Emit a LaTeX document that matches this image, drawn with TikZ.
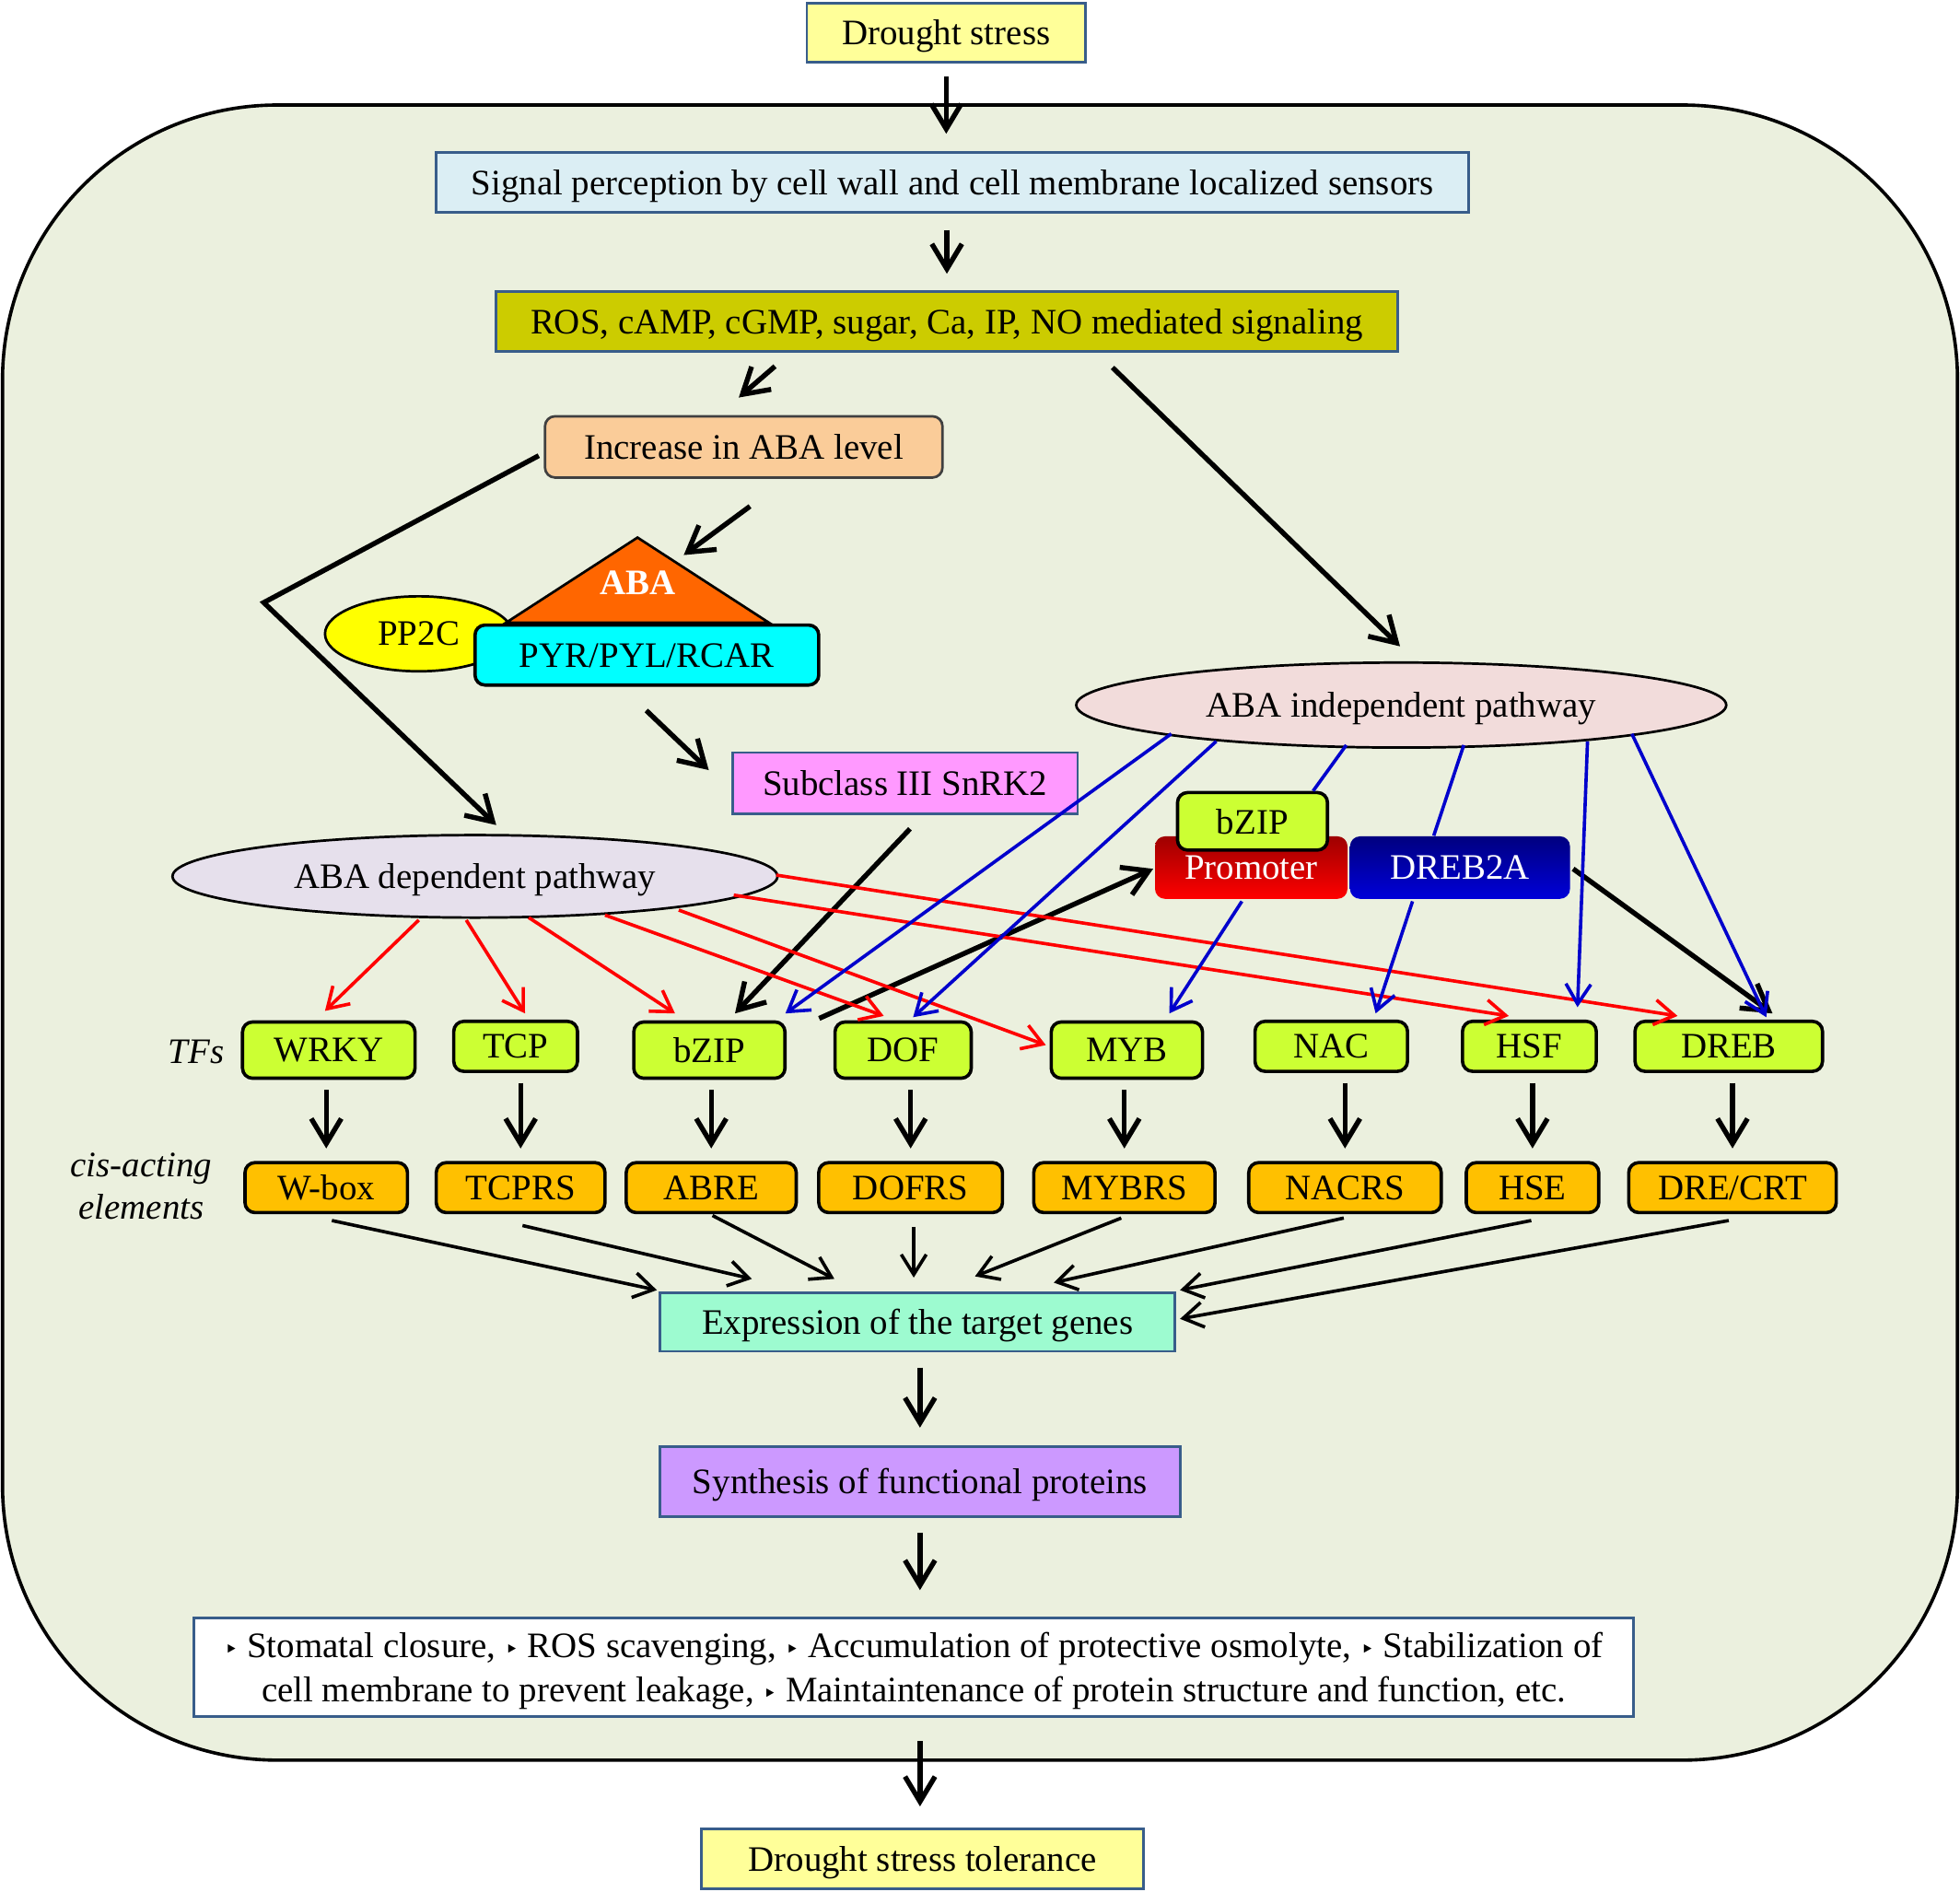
\documentclass[tikz,border=0pt]{standalone}
\usepackage{fontspec}
\setmainfont{Liberation Serif}
\newfontfamily\bulletfont{DejaVu Sans}
\usetikzlibrary{arrows.meta,shapes.geometric,calc}
\newcommand{\boxfont}{\fontsize{21.5}{26}\selectfont}
\newcommand{\trib}{{\bulletfont\fontsize{14}{14}\selectfont ‣}}
\tikzset{every picture/.style={line width=0.75pt}}
\tikzset{
  txt/.style={font=\boxfont, inner sep=0pt, align=center, text depth=0pt},
  box/.style={txt, draw={rgb, 255:red, 56; green, 93; blue, 138}, line width=1.5pt},
  tf/.style={txt, draw, line width=2pt, rounded corners=6pt, fill={rgb, 255:red, 204; green, 255; blue, 51}},
  cis/.style={txt, draw, line width=2pt, rounded corners=6pt, fill={rgb, 255:red, 255; green, 192; blue, 0}, minimum height=30pt},
  oval/.style={txt, draw, ellipse, line width=1.5pt},
  arr/.style={line width=3pt, -{Straight Barb[length=15pt,width=18pt]}},
  tip/.style={line width=2pt, -{Straight Barb[length=12pt,width=15pt]}},
  redarr/.style={tip, color={rgb, 255:red, 255; green, 0; blue, 0}},
  bluearr/.style={tip, color={rgb, 255:red, 0; green, 0; blue, 204}},
  blueline/.style={line width=2pt, color={rgb, 255:red, 0; green, 0; blue, 204}},
}
\begin{document}
\begin{tikzpicture}[x=0.75pt,y=0.75pt,yscale=-1,xscale=1]
\useasboundingbox (0,0) rectangle (1568,1513);

%Shape: Rounded Rect (cell)
\draw[line width=2pt, fill={rgb, 255:red, 235; green, 240; blue, 222}, rounded corners=165pt] (2,84) rectangle (1566,1408);

%Main flow boxes
\node[box, fill={rgb, 255:red, 255; green, 255; blue, 153}, minimum width=167.25pt, minimum height=35.25pt] (drought) at (757,26) {Drought stress};
\node[box, fill={rgb, 255:red, 219; green, 238; blue, 244}, minimum width=619.5pt, minimum height=36pt] (signal) at (762,146) {Signal perception by cell wall and cell membrane localized sensors};
\node[box, fill={rgb, 255:red, 204; green, 204; blue, 0}, minimum width=540.75pt, minimum height=36pt] (ros) at (757.5,257) {ROS, cAMP, cGMP, sugar, Ca, IP, NO mediated signaling};
\node[txt, draw={rgb, 255:red, 64; green, 64; blue, 64}, line width=1.5pt, rounded corners=6pt, fill={rgb, 255:red, 250; green, 204; blue, 153}, minimum width=238.5pt, minimum height=36.75pt] (inc) at (595,357.5) {Increase in ABA level};

%Receptor complex
\node[oval, fill={rgb, 255:red, 255; green, 255; blue, 0}, minimum width=112.5pt, minimum height=45pt] (pp2c) at (335,507) {PP2C};
\coordinate (abaleft) at (405,498);
\coordinate (abatop) at (510,430);
\coordinate (abaright) at (615,498);
\draw[line width=1.5pt, fill={rgb, 255:red, 255; green, 102; blue, 0}] (abaleft) -- (abatop) -- (abaright) -- cycle;
\node[txt, text=white, font=\boxfont\bfseries] (aba) at (510,466) {ABA};
\node[txt, draw, line width=2pt, rounded corners=6pt, fill={rgb, 255:red, 0; green, 255; blue, 255}, minimum width=206.25pt, minimum height=36pt] (pyr) at (517.5,524) {PYR/PYL/RCAR};
\node[box, fill={rgb, 255:red, 255; green, 153; blue, 255}, minimum width=207pt, minimum height=36.75pt] (snrk) at (724,626.5) {Subclass III SnRK2};

%Pathways
\node[oval, fill={rgb, 255:red, 242; green, 220; blue, 219}, minimum width=390pt, minimum height=51pt] (indep) at (1121,564) {ABA independent pathway};
\node[oval, fill={rgb, 255:red, 230; green, 224; blue, 236}, minimum width=363pt, minimum height=49.5pt] (dep) at (380,701) {ABA dependent pathway};
\node[txt, text=white, rounded corners=6pt, top color=red!62!black, bottom color=red, minimum width=115.5pt, minimum height=37.5pt] (prom) at (1001,694) {Promoter};
\node[txt, text=white, rounded corners=6pt, top color=blue!50!black, bottom color=blue!85!black, minimum width=132pt, minimum height=37.5pt] (dreb2a) at (1168,694) {DREB2A};
\node[tf, minimum width=90pt, minimum height=34.5pt] (bzipp) at (1002,657) {bZIP};

%TFs and cis-acting elements
\node[txt, font=\boxfont\itshape] (tflab) at (157,841) {TFs};
\node[txt, font=\fontsize{21.5}{25.5}\selectfont\itshape] (cislab) at (113,949) {cis-acting\\elements};
\foreach \n/\t/\x/\y/\w/\h in {wrky/WRKY/263/840/103.5pt/33.75pt, tcp/TCP/412.5/837/74.25pt/30pt, bzip/bZIP/567.5/840/90.75pt/33.75pt, dof/DOF/722.5/840/81.75pt/33.75pt, myb/MYB/901.5/840/90.75pt/33.75pt, nac/NAC/1065/837/91.5pt/30pt, hsf/HSF/1223.5/837/80.25pt/30pt, dreb/DREB/1383/837/112.5pt/30pt}
  \node[tf, minimum width=\w, minimum height=\h] (\n) at (\x,\y) {\t};
\foreach \n/\t/\x/\w in {wbox/W-box/261/97.5pt, tcprs/TCPRS/416.5/101.25pt, abre/ABRE/569/102pt, dofrs/DOFRS/728.5/110.25pt, mybrs/MYBRS/899.5/108.75pt, nacrs/NACRS/1076/115.5pt, hse/HSE/1226/79.5pt, drecrt/{DRE/CRT}/1386/124.5pt}
  \node[cis, minimum width=\w] (\n) at (\x,950) {\t};

%Lower boxes
\node[box, fill={rgb, 255:red, 157; green, 251; blue, 208}, minimum width=309pt, minimum height=35.25pt] (expr) at (734,1057.5) {Expression of the target genes};
\node[box, fill={rgb, 255:red, 204; green, 153; blue, 255}, minimum width=312pt, minimum height=42pt] (synth) at (736,1185) {Synthesis of functional proteins};
\node[box, fill=white, minimum width=864pt, minimum height=59.25pt, font=\fontsize{21.5}{26.25}\selectfont] (outcome) at (731,1333.5) {\trib{} Stomatal closure, \trib{} ROS scavenging, \trib{} Accumulation of protective osmolyte, \trib{} Stabilization of\\cell membrane to prevent leakage, \trib{} Maintaintenance of protein structure and function, etc.};
\node[box, fill={rgb, 255:red, 255; green, 255; blue, 153}, minimum width=265.5pt, minimum height=36pt] (tol) at (738,1487) {Drought stress tolerance};

%Black arrows
\draw[arr, shorten <=8pt, shorten >=10.5pt] (drought.south) -- (drought.south |- signal.north);
\draw[arr, shorten <=9.75pt, shorten >=9.75pt] (ros.north |- signal.south) -- (ros.north);
\draw[arr] ($(ros.south)+(-137.5,11)$) -- ($(inc.north)+(-4,-14)$);
\draw[arr] ($(ros.south)+(132.5,12)$) -- ($(indep.north)+(-1,-12)$);
\coordinate (abaturn) at (211,482);
\draw[arr] ($(inc.west)+(-4,7)$) -- (abaturn) -- ($(dep.north)+(17,-7)$);
\draw[arr] ($(inc.south)+(5,22)$) -- ($(abatop)+(37,14)$);
\draw[arr] ($(pyr.south)+(-0.5,19)$) -- ($(snrk.west)+(-18,-10.5)$);
\draw[arr] ($(snrk.south)+(4,11)$) -- ($(bzip.north)+(20.5,-5.5)$);
\draw[arr] ($(bzip.north east)+(26,-1.5)$) -- ($(prom.west)+(-1,1)$);
\draw[arr] ($(dreb2a.east)+(2,1)$) -- ($(dreb.north)+(35,-5)$);

%Red arrows
\draw[redarr] ($(dep.south)+(-45,1)$) -- ($(wrky.north)+(-3,-7.5)$);
\draw[redarr] ($(dep.south)+(-7,1)$) -- ($(tcp.north)+(7.5,-5)$);
\draw[redarr] ($(dep.south)+(43,-1)$) -- ($(bzip.north)+(-27.5,-5.5)$);
\draw[redarr] ($(dep.south)+(104,-3)$) -- ($(dof.north)+(-15.5,-3.5)$);
\draw[redarr] ($(dep.south)+(163,-7)$) -- ($(myb.west)+(-3,-4)$);
\draw[redarr] ($(dep.east)+(-36,15)$) -- ($(hsf.north)+(-16.5,-3)$);
\draw[redarr] ($(dep.east)+(-2,-1)$) -- ($(dreb.north)+(-41,-3)$);

%Blue arrows
\draw[bluearr] ($(indep.south)+(-184,-12)$) -- ($(bzip.north east)+(-1,-5.5)$);
\draw[bluearr] ($(indep.south)+(-148,-6)$) -- ($(dof.north)+(8,-2.5)$);
\draw[blueline] ($(indep.south)+(-44,-3)$) -- ($(bzipp.north)+(48.5,0)$);
\draw[blueline] ($(indep.south)+(50,-3)$) -- ($(dreb2a.north)+(-21,0)$);
\draw[bluearr] ($(prom.south)+(-7.5,1.5)$) -- ($(myb.north)+(34,-5.5)$);
\draw[bluearr] ($(dreb2a.south)+(-38,1.5)$) -- ($(nac.north)+(35.5,-5)$);
\draw[bluearr] ($(indep.south)+(149,-6)$) -- ($(hsf.north)+(38.5,-10)$);
\draw[bluearr] ($(indep.south)+(184.5,-12)$) -- ($(dreb.north)+(30,-2)$);

%TF to cis element
\foreach \a/\b in {wrky/wbox, tcp/tcprs, bzip/abre, dof/dofrs, myb/mybrs, nac/nacrs, hsf/hse, dreb/drecrt}
  \draw[arr, shorten <=6pt, shorten >=7.5pt] (\b.north |- \a.south) -- (\b.north);

%cis elements to expression
\draw[tip] ($(wbox.south)+(4.5,5)$) -- ($(expr.north west)+(-1.5,-1)$);
\draw[tip] ($(tcprs.south)+(1.5,9)$) -- ($(expr.north)+(-132.5,-10)$);
\draw[tip] ($(abre.south)+(1,1)$) -- ($(expr.north)+(-66.5,-10)$);
\draw[tip] ($(dofrs.south)+(2.5,10)$) -- ($(expr.north)+(-3,-11)$);
\draw[tip] ($(mybrs.south)+(-2.5,3)$) -- ($(expr.north)+(46,-12)$);
\draw[tip] ($(nacrs.south)+(-1,3)$) -- ($(expr.north)+(109,-7)$);
\draw[tip] ($(hse.south)+(-1,5)$) -- ($(expr.north east)+(3,-1)$);
\draw[tip] ($(drecrt.south)+(-3,5)$) -- ($(expr.east)+(3,-2.5)$);

%Lower flow
\draw[arr, shorten <=9pt, shorten >=10.5pt] (synth.north |- expr.south) -- (synth.north);
\draw[arr, shorten <=9pt, shorten >=15.75pt] (synth.south) -- (synth.south |- outcome.north);
\draw[arr, shorten <=14pt, shorten >=12.75pt] (synth.south |- outcome.south) -- (synth.south |- tol.north);

\end{tikzpicture}
\end{document}
